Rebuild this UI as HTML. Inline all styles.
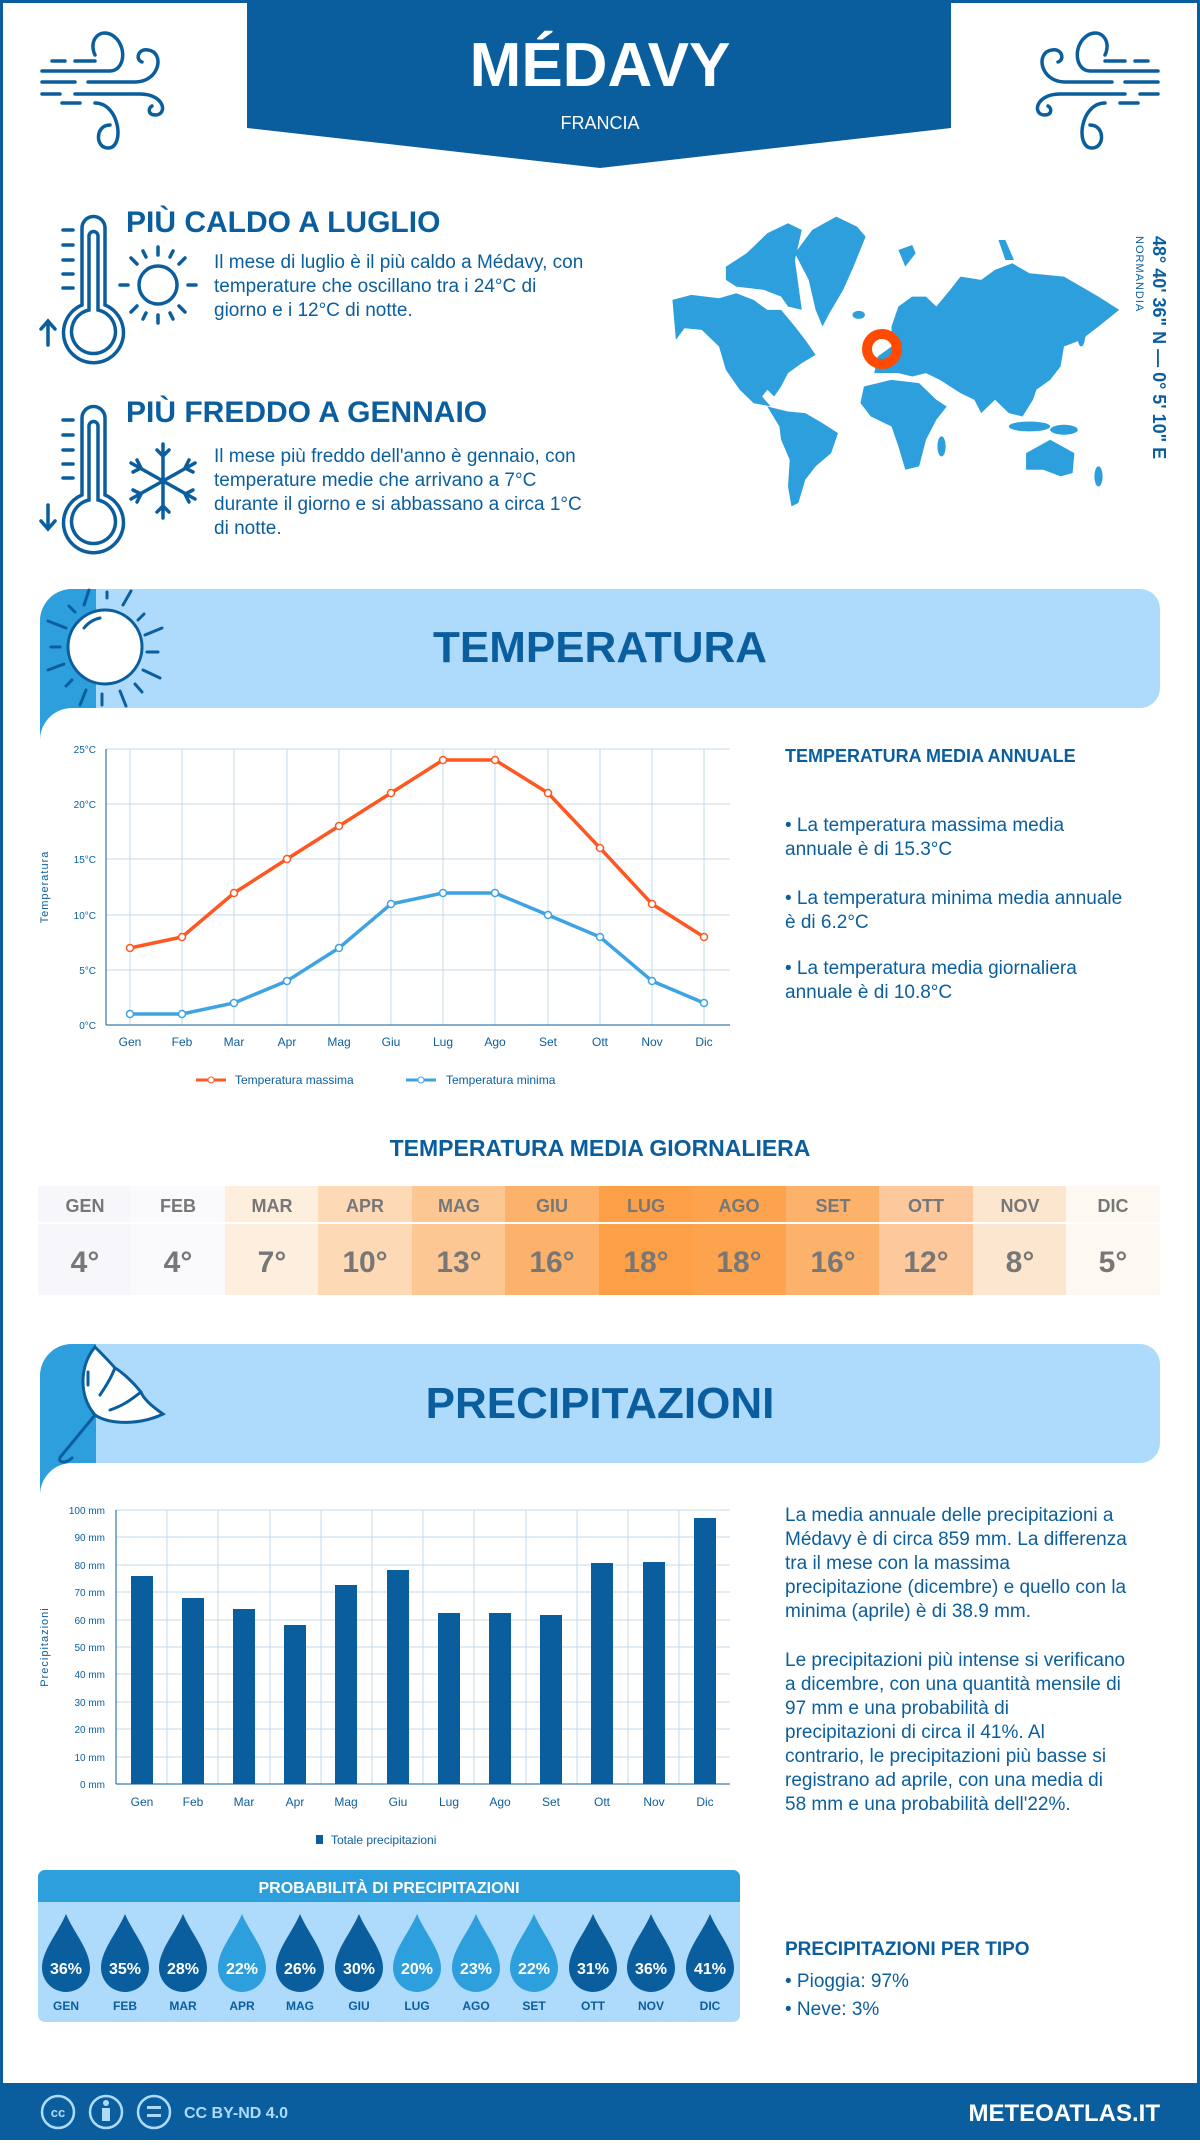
<!DOCTYPE html>
<html><head><meta charset="utf-8"><style>
html,body{margin:0;padding:0;background:#fff}
body{width:1200px;height:2140px;position:relative;overflow:hidden;font-family:"Liberation Sans",sans-serif}
svg text{font-family:"Liberation Sans",sans-serif}
</style></head><body>
<svg width="1200" height="2140" viewBox="0 0 1200 2140" xmlns="http://www.w3.org/2000/svg">
<rect x="1.5" y="1.5" width="1197" height="2137" fill="#fff" stroke="#0b5e9e" stroke-width="3"/>
<polygon points="247,0 951,0 951,128 600,168 247,128" fill="#0b5e9e"/>
<text x="600" y="86" text-anchor="middle" font-size="62" font-weight="bold" fill="#fff">MÉDAVY</text>
<text x="600" y="129" text-anchor="middle" font-size="18" fill="#fff">FRANCIA</text>
<g fill="none" stroke="#0b5e9e" stroke-width="3.5" stroke-linecap="round">
<path d="M42,71 H110 C125,71 128,45 112,35 C100,28 88,40 95,55"/>
<path d="M42,82 H75 M88,82 H135 C160,82 165,52 148,50 C138,48 135,60 142,62"/>
<path d="M52,61 H65 M75,61 H95"/>
<path d="M42,94 H60 M75,94 H140 C165,94 168,115 155,115 C148,115 148,108 152,106"/>
<path d="M62,103 H80 M95,103 C120,103 125,148 108,148 C95,148 95,125 110,125"/>
<g transform="translate(1200,0) scale(-1,1)">
<path d="M42,71 H110 C125,71 128,45 112,35 C100,28 88,40 95,55"/>
<path d="M42,82 H75 M88,82 H135 C160,82 165,52 148,50 C138,48 135,60 142,62"/>
<path d="M52,61 H65 M75,61 H95"/>
<path d="M42,94 H60 M75,94 H140 C165,94 168,115 155,115 C148,115 148,108 152,106"/>
<path d="M62,103 H80 M95,103 C120,103 125,148 108,148 C95,148 95,125 110,125"/>
</g>
</g>
<g fill="none" stroke="#0b5e9e" stroke-width="3.5" stroke-linecap="round">
<path d="M82,305 V228 A11.5,11.5 0 0 1 105,228 V305 A30,30 0 1 1 82,305 Z"/>
<path d="M89,310 V236 A4.5,4.5 0 0 1 98,236 V310 A22,22 0 1 1 89,310 Z"/>
<path d="M63,230 H73 M63,245 H73 M63,260 H73 M63,274 H73 M63,288 H73"/>
<path d="M48,345 V322 M41,329 L48,321 L55,329"/>
<circle cx="158" cy="285" r="19"/>
<path d="M158,255 V247 M158,315 V323 M128,285 H120 M188,285 H196 M137,264 L131,258 M179,264 L185,258 M137,306 L131,312 M179,306 L185,312 M146,257 L143,251 M170,257 L173,251 M146,313 L143,319 M170,313 L173,319"/>
<g transform="translate(0,190)">
<path d="M82,305 V228 A11.5,11.5 0 0 1 105,228 V305 A30,30 0 1 1 82,305 Z"/>
<path d="M89,310 V236 A4.5,4.5 0 0 1 98,236 V310 A22,22 0 1 1 89,310 Z"/>
<path d="M63,230 H73 M63,245 H73 M63,260 H73 M63,274 H73 M63,288 H73"/>
</g>
<path d="M48,505 V528 M41,521 L48,529 L55,521"/>
<g transform="translate(163,481)"><path d="M0,-37 V37 M-32,-18 L32,18 M-32,18 L32,-18 M-6,-31 L0,-25 L6,-31 M-6,31 L0,25 L6,31 M-30,-9 L-22,-13 L-26,-21 M30,9 L22,13 L26,21 M-30,9 L-22,13 L-26,21 M30,-9 L22,-13 L26,-21"/></g>
</g>
<text x="126" y="232" font-size="30" font-weight="bold" fill="#0b5e9e">PIÙ CALDO A LUGLIO</text>
<g font-size="19" fill="#0b5e9e">
<text x="214" y="268">Il mese di luglio è il più caldo a Médavy, con</text>
<text x="214" y="292">temperature che oscillano tra i 24°C di</text>
<text x="214" y="316">giorno e i 12°C di notte.</text>
</g>
<text x="126" y="422" font-size="30" font-weight="bold" fill="#0b5e9e">PIÙ FREDDO A GENNAIO</text>
<g font-size="19" fill="#0b5e9e">
<text x="214" y="462">Il mese più freddo dell'anno è gennaio, con</text>
<text x="214" y="486">temperature medie che arrivano a 7°C</text>
<text x="214" y="510">durante il giorno e si abbassano a circa 1°C</text>
<text x="214" y="534">di notte.</text>
</g>
<!-- map -->
<g transform="translate(650,200) scale(0.345,0.333)" fill="#2e9fdd">
<path d="M65,300 L120,285 L200,295 L250,280 L300,300 L340,330 L380,330 L420,380 L450,420 L480,465 L440,490 L400,520 L380,560 L360,590 L340,570 L325,590 L350,620 L300,610 L260,570 L220,510 L200,440 L150,390 L100,385 L75,420 L70,360 Z"/>
<path d="M220,200 L280,160 L340,100 L400,70 L440,90 L420,180 L440,330 L400,320 L380,290 L330,270 L250,260 L220,240 Z"/>
<path d="M420,160 L470,90 L540,50 L600,80 L625,110 L590,200 L560,270 L520,340 L500,380 L480,330 L460,240 Z"/>
<path d="M340,620 L400,635 L450,640 L500,670 L545,700 L525,760 L480,800 L450,840 L430,910 L410,920 L400,860 L405,780 L380,720 L375,680 Z"/>
<path d="M700,380 L720,320 L760,290 L800,290 L830,320 L870,270 L900,230 L960,240 L1000,210 L1050,190 L1100,220 L1200,230 L1300,290 L1360,330 L1300,380 L1250,420 L1200,440 L1190,500 L1160,540 L1120,570 L1110,600 L1080,650 L1040,640 L1000,600 L960,640 L940,600 L900,580 L870,560 L840,540 L800,520 L760,530 L720,520 L650,520 L660,470 L700,440 Z"/>
<path d="M620,560 L700,540 L780,550 L830,600 L860,620 L830,660 L800,720 L780,800 L740,810 L720,740 L700,680 L640,650 L610,610 Z"/>
<path d="M1090,760 L1160,720 L1230,760 L1225,820 L1190,830 L1140,810 L1090,810 Z"/>
<path d="M1010,120 L1030,120 L1055,180 L1030,180 Z"/>
<path d="M720,150 L760,135 L770,160 L740,200 Z"/>
<ellipse cx="1100" cy="680" rx="60" ry="15"/><ellipse cx="1200" cy="690" rx="40" ry="15"/><ellipse cx="845" cy="740" rx="12" ry="30"/><ellipse cx="1250" cy="400" rx="12" ry="40"/><ellipse cx="605" cy="345" rx="18" ry="12"/><ellipse cx="1300" cy="830" rx="12" ry="30"/>
</g>
<circle cx="882" cy="349" r="15" fill="none" stroke="#ff4a00" stroke-width="10"/>
<text transform="translate(1153,236) rotate(90)" font-size="18" font-weight="bold" fill="#0b5e9e">48° 40' 36" N — 0° 5' 10" E</text>
<text transform="translate(1136,236) rotate(90)" font-size="11" fill="#0b5e9e" letter-spacing="1">NORMANDIA</text>
<!-- temp banner -->
<path d="M70,589 H1140 A20,20 0 0 1 1160,609 V688 A20,20 0 0 1 1140,708 H72 A32,32 0 0 0 40,740 V621 A32,32 0 0 1 72,589 Z" fill="#aedbfc"/>
<path d="M72,589 H96 V708 H72 A32,32 0 0 0 40,740 V621 A32,32 0 0 1 72,589 Z" fill="#2e9fdd"/>
<g stroke="#0b5e9e" stroke-width="3" stroke-linecap="round" fill="none">
<circle cx="105" cy="647" r="37" fill="#fff"/>
<path d="M84,605 L89,590 M107,598 V592 M123,605 L131,591 M138,620 L144,614 M145,635 L162,628 M147,652 H158 M143,670 L160,678 M135,684 L142,692 M120,691 L126,706 M102,694 V705 M86,690 L80,705 M72,680 L66,686 M64,664 L48,670 M60,647 H51 M66,628 L48,621 M75,612 L69,606"/>
<path d="M84,628 A28,28 0 0 1 100,618"/>
</g>
<text x="600" y="662" text-anchor="middle" font-size="44" font-weight="bold" fill="#0b5e9e">TEMPERATURA</text>
<!-- temp chart -->
<g stroke="#c5d9ea" stroke-width="1">
<line x1="106" y1="749" x2="730" y2="749"/><line x1="106" y1="804" x2="730" y2="804"/><line x1="106" y1="859" x2="730" y2="859"/><line x1="106" y1="915" x2="730" y2="915"/><line x1="106" y1="970" x2="730" y2="970"/>
<line x1="130" y1="749" x2="130" y2="1025"/><line x1="182" y1="749" x2="182" y2="1025"/><line x1="234" y1="749" x2="234" y2="1025"/><line x1="287" y1="749" x2="287" y2="1025"/><line x1="339" y1="749" x2="339" y2="1025"/><line x1="391" y1="749" x2="391" y2="1025"/><line x1="443" y1="749" x2="443" y2="1025"/><line x1="495" y1="749" x2="495" y2="1025"/><line x1="548" y1="749" x2="548" y2="1025"/><line x1="600" y1="749" x2="600" y2="1025"/><line x1="652" y1="749" x2="652" y2="1025"/><line x1="704" y1="749" x2="704" y2="1025"/>
</g>
<line x1="106" y1="749" x2="106" y2="1025" stroke="#0b5e9e"/><line x1="106" y1="1025" x2="730" y2="1025" stroke="#0b5e9e"/>
<g font-size="10" fill="#0b5e9e" text-anchor="end">
<text x="96" y="753">25°C</text><text x="96" y="808">20°C</text><text x="96" y="863">15°C</text><text x="96" y="919">10°C</text><text x="96" y="974">5°C</text><text x="96" y="1029">0°C</text>
</g>
<text transform="translate(48,887) rotate(-90)" text-anchor="middle" font-size="11" fill="#0b5e9e" letter-spacing="1">Temperatura</text>
<g font-size="12" fill="#0b5e9e" text-anchor="middle">
<text x="130" y="1046">Gen</text><text x="182" y="1046">Feb</text><text x="234" y="1046">Mar</text><text x="287" y="1046">Apr</text><text x="339" y="1046">Mag</text><text x="391" y="1046">Giu</text><text x="443" y="1046">Lug</text><text x="495" y="1046">Ago</text><text x="548" y="1046">Set</text><text x="600" y="1046">Ott</text><text x="652" y="1046">Nov</text><text x="704" y="1046">Dic</text>
</g>
<polyline fill="none" stroke="#ff5722" stroke-width="3.5" points="130,948 182,937 234,893 287,859 339,826 391,793 443,760 495,760 548,793 600,848 652,904 704,937"/>
<polyline fill="none" stroke="#3ea3e3" stroke-width="3.5" points="130,1014 182,1014 234,1003 287,981 339,948 391,904 443,893 495,893 548,915 600,937 652,981 704,1003"/>
<g fill="#fff" stroke="#ff5722" stroke-width="1.5">
<circle cx="130" cy="948" r="3.5"/><circle cx="182" cy="937" r="3.5"/><circle cx="234" cy="893" r="3.5"/><circle cx="287" cy="859" r="3.5"/><circle cx="339" cy="826" r="3.5"/><circle cx="391" cy="793" r="3.5"/><circle cx="443" cy="760" r="3.5"/><circle cx="495" cy="760" r="3.5"/><circle cx="548" cy="793" r="3.5"/><circle cx="600" cy="848" r="3.5"/><circle cx="652" cy="904" r="3.5"/><circle cx="704" cy="937" r="3.5"/>
</g>
<g fill="#fff" stroke="#3ea3e3" stroke-width="1.5">
<circle cx="130" cy="1014" r="3.5"/><circle cx="182" cy="1014" r="3.5"/><circle cx="234" cy="1003" r="3.5"/><circle cx="287" cy="981" r="3.5"/><circle cx="339" cy="948" r="3.5"/><circle cx="391" cy="904" r="3.5"/><circle cx="443" cy="893" r="3.5"/><circle cx="495" cy="893" r="3.5"/><circle cx="548" cy="915" r="3.5"/><circle cx="600" cy="937" r="3.5"/><circle cx="652" cy="981" r="3.5"/><circle cx="704" cy="1003" r="3.5"/>
</g>
<line x1="196" y1="1080" x2="226" y2="1080" stroke="#ff5722" stroke-width="3"/><circle cx="211" cy="1080" r="3" fill="#fff" stroke="#ff5722"/>
<text x="235" y="1084" font-size="12" fill="#0b5e9e">Temperatura massima</text>
<line x1="406" y1="1080" x2="436" y2="1080" stroke="#3ea3e3" stroke-width="3"/><circle cx="421" cy="1080" r="3" fill="#fff" stroke="#3ea3e3"/>
<text x="446" y="1084" font-size="12" fill="#0b5e9e">Temperatura minima</text>
<text x="785" y="762" font-size="18" font-weight="bold" fill="#0b5e9e">TEMPERATURA MEDIA ANNUALE</text>
<g font-size="19" fill="#0b5e9e">
<text x="785" y="831">• La temperatura massima media</text><text x="785" y="855">annuale è di 15.3°C</text>
<text x="785" y="904">• La temperatura minima media annuale</text><text x="785" y="928">è di 6.2°C</text>
<text x="785" y="974">• La temperatura media giornaliera</text><text x="785" y="998">annuale è di 10.8°C</text>
</g>
<text x="600" y="1156" text-anchor="middle" font-size="23" font-weight="bold" fill="#0b5e9e">TEMPERATURA MEDIA GIORNALIERA</text>
<g>
<rect x="38" y="1186" width="94" height="109" fill="#f6f6fb"/>
<rect x="131" y="1186" width="94" height="109" fill="#fafafd"/>
<rect x="225" y="1186" width="94" height="109" fill="#feeedd"/>
<rect x="318" y="1186" width="94" height="109" fill="#fdd9b5"/>
<rect x="412" y="1186" width="94" height="109" fill="#fdc793"/>
<rect x="505" y="1186" width="94" height="109" fill="#fdb26b"/>
<rect x="599" y="1186" width="94" height="109" fill="#fd9f47"/>
<rect x="692" y="1186" width="94" height="109" fill="#fda24d"/>
<rect x="786" y="1186" width="94" height="109" fill="#fdb26b"/>
<rect x="879" y="1186" width="94" height="109" fill="#fdc89b"/>
<rect x="973" y="1186" width="94" height="109" fill="#fde6cf"/>
<rect x="1066" y="1186" width="94" height="109" fill="#fef8f2"/>
<line x1="38" y1="1223" x2="1160" y2="1223" stroke="#fff" stroke-width="2"/>
</g>
<g font-size="18" font-weight="bold" fill="#777" text-anchor="middle">
<text x="85" y="1212">GEN</text><text x="178" y="1212">FEB</text><text x="272" y="1212">MAR</text><text x="365" y="1212">APR</text><text x="459" y="1212">MAG</text><text x="552" y="1212">GIU</text><text x="646" y="1212">LUG</text><text x="739" y="1212">AGO</text><text x="833" y="1212">SET</text><text x="926" y="1212">OTT</text><text x="1020" y="1212">NOV</text><text x="1113" y="1212">DIC</text>
</g>
<g font-size="30" font-weight="bold" fill="#777" text-anchor="middle">
<text x="85" y="1272">4°</text><text x="178" y="1272">4°</text><text x="272" y="1272">7°</text><text x="365" y="1272">10°</text><text x="459" y="1272">13°</text><text x="552" y="1272">16°</text><text x="646" y="1272">18°</text><text x="739" y="1272">18°</text><text x="833" y="1272">16°</text><text x="926" y="1272">12°</text><text x="1020" y="1272">8°</text><text x="1113" y="1272">5°</text>
</g>
<!-- precip banner -->
<path d="M72,1344 H1140 A20,20 0 0 1 1160,1364 V1443 A20,20 0 0 1 1140,1463 H72 A32,32 0 0 0 40,1495 V1376 A32,32 0 0 1 72,1344 Z" fill="#aedbfc"/>
<path d="M72,1344 H96 V1463 H72 A32,32 0 0 0 40,1495 V1376 A32,32 0 0 1 72,1344 Z" fill="#2e9fdd"/>
<g stroke="#0b5e9e" stroke-width="3" fill="none" stroke-linecap="round">
<path d="M95,1347 C80,1365 78,1395 95,1415 C110,1425 140,1425 163,1414 C150,1405 143,1398 141,1392 C133,1382 122,1372 115,1368 C108,1360 100,1352 95,1347 Z" fill="#fff"/>
<path d="M95,1415 L62,1455 C55,1462 65,1465 72,1458"/>
<path d="M88,1372 V1385 M100,1395 C110,1380 112,1375 115,1368 M110,1410 C125,1405 133,1398 141,1392"/>
</g>
<text x="600" y="1418" text-anchor="middle" font-size="44" font-weight="bold" fill="#0b5e9e">PRECIPITAZIONI</text>
<g stroke="#c5d9ea" stroke-width="1">
<line x1="116" y1="1510" x2="730" y2="1510"/><line x1="116" y1="1537" x2="730" y2="1537"/><line x1="116" y1="1565" x2="730" y2="1565"/><line x1="116" y1="1592" x2="730" y2="1592"/><line x1="116" y1="1620" x2="730" y2="1620"/><line x1="116" y1="1647" x2="730" y2="1647"/><line x1="116" y1="1674" x2="730" y2="1674"/><line x1="116" y1="1702" x2="730" y2="1702"/><line x1="116" y1="1729" x2="730" y2="1729"/><line x1="116" y1="1757" x2="730" y2="1757"/>
<line x1="167" y1="1510" x2="167" y2="1784"/><line x1="218" y1="1510" x2="218" y2="1784"/><line x1="270" y1="1510" x2="270" y2="1784"/><line x1="321" y1="1510" x2="321" y2="1784"/><line x1="372" y1="1510" x2="372" y2="1784"/><line x1="423" y1="1510" x2="423" y2="1784"/><line x1="474" y1="1510" x2="474" y2="1784"/><line x1="526" y1="1510" x2="526" y2="1784"/><line x1="577" y1="1510" x2="577" y2="1784"/><line x1="628" y1="1510" x2="628" y2="1784"/><line x1="679" y1="1510" x2="679" y2="1784"/>
</g>
<line x1="116" y1="1510" x2="116" y2="1784" stroke="#0b5e9e"/><line x1="116" y1="1784" x2="730" y2="1784" stroke="#0b5e9e"/>
<g font-size="10" fill="#0b5e9e" text-anchor="end">
<text x="105" y="1514">100 mm</text><text x="105" y="1541">90 mm</text><text x="105" y="1569">80 mm</text><text x="105" y="1596">70 mm</text><text x="105" y="1624">60 mm</text><text x="105" y="1651">50 mm</text><text x="105" y="1678">40 mm</text><text x="105" y="1706">30 mm</text><text x="105" y="1733">20 mm</text><text x="105" y="1761">10 mm</text><text x="105" y="1788">0 mm</text>
</g>
<text transform="translate(48,1647) rotate(-90)" text-anchor="middle" font-size="11" fill="#0b5e9e" letter-spacing="1">Precipitazioni</text>
<g fill="#0b5e9e">
<rect x="131" y="1576" width="22" height="208"/><rect x="182" y="1598" width="22" height="186"/><rect x="233" y="1609" width="22" height="175"/><rect x="284" y="1625" width="22" height="159"/><rect x="335" y="1585" width="22" height="199"/><rect x="387" y="1570" width="22" height="214"/><rect x="438" y="1613" width="22" height="171"/><rect x="489" y="1613" width="22" height="171"/><rect x="540" y="1615" width="22" height="169"/><rect x="591" y="1563" width="22" height="221"/><rect x="643" y="1562" width="22" height="222"/><rect x="694" y="1518" width="22" height="266"/>
</g>
<g font-size="12" fill="#0b5e9e" text-anchor="middle">
<text x="142" y="1806">Gen</text><text x="193" y="1806">Feb</text><text x="244" y="1806">Mar</text><text x="295" y="1806">Apr</text><text x="346" y="1806">Mag</text><text x="398" y="1806">Giu</text><text x="449" y="1806">Lug</text><text x="500" y="1806">Ago</text><text x="551" y="1806">Set</text><text x="602" y="1806">Ott</text><text x="654" y="1806">Nov</text><text x="705" y="1806">Dic</text>
</g>
<rect x="316" y="1835" width="7" height="9" fill="#0b5e9e"/>
<text x="331" y="1844" font-size="12" fill="#0b5e9e">Totale precipitazioni</text>
<g font-size="19" fill="#0b5e9e">
<text x="785" y="1521">La media annuale delle precipitazioni a</text>
<text x="785" y="1545">Médavy è di circa 859 mm. La differenza</text>
<text x="785" y="1569">tra il mese con la massima</text>
<text x="785" y="1593">precipitazione (dicembre) e quello con la</text>
<text x="785" y="1617">minima (aprile) è di 38.9 mm.</text>
<text x="785" y="1666">Le precipitazioni più intense si verificano</text>
<text x="785" y="1690">a dicembre, con una quantità mensile di</text>
<text x="785" y="1714">97 mm e una probabilità di</text>
<text x="785" y="1738">precipitazioni di circa il 41%. Al</text>
<text x="785" y="1762">contrario, le precipitazioni più basse si</text>
<text x="785" y="1786">registrano ad aprile, con una media di</text>
<text x="785" y="1810">58 mm e una probabilità dell'22%.</text>
</g>
<rect x="38" y="1870" width="702" height="152" rx="7" fill="#aedbfc"/>
<path d="M45,1870 H733 A7,7 0 0 1 740,1877 V1902 H38 V1877 A7,7 0 0 1 45,1870 Z" fill="#2e9fdd"/>
<text x="389" y="1893" text-anchor="middle" font-size="16" font-weight="bold" fill="#fff">PROBABILITÀ DI PRECIPITAZIONI</text>
<defs><path id="drop" d="M0,-54 C8,-35 24,-18 24,0 A24,24 0 0 1 -24,0 C-24,-18 -8,-35 0,-54 Z"/></defs>
<g>
<use href="#drop" x="66" y="1968" fill="#0b5e9e"/><use href="#drop" x="125" y="1968" fill="#0b5e9e"/><use href="#drop" x="183" y="1968" fill="#0b5e9e"/><use href="#drop" x="242" y="1968" fill="#2e9fdd"/><use href="#drop" x="300" y="1968" fill="#0b5e9e"/><use href="#drop" x="359" y="1968" fill="#0b5e9e"/><use href="#drop" x="417" y="1968" fill="#2e9fdd"/><use href="#drop" x="476" y="1968" fill="#2e9fdd"/><use href="#drop" x="534" y="1968" fill="#2e9fdd"/><use href="#drop" x="593" y="1968" fill="#0b5e9e"/><use href="#drop" x="651" y="1968" fill="#0b5e9e"/><use href="#drop" x="710" y="1968" fill="#0b5e9e"/>
</g>
<g font-size="16" font-weight="bold" fill="#fff" text-anchor="middle">
<text x="66" y="1974">36%</text><text x="125" y="1974">35%</text><text x="183" y="1974">28%</text><text x="242" y="1974">22%</text><text x="300" y="1974">26%</text><text x="359" y="1974">30%</text><text x="417" y="1974">20%</text><text x="476" y="1974">23%</text><text x="534" y="1974">22%</text><text x="593" y="1974">31%</text><text x="651" y="1974">36%</text><text x="710" y="1974">41%</text>
</g>
<g font-size="12" font-weight="bold" fill="#0b5e9e" text-anchor="middle">
<text x="66" y="2010">GEN</text><text x="125" y="2010">FEB</text><text x="183" y="2010">MAR</text><text x="242" y="2010">APR</text><text x="300" y="2010">MAG</text><text x="359" y="2010">GIU</text><text x="417" y="2010">LUG</text><text x="476" y="2010">AGO</text><text x="534" y="2010">SET</text><text x="593" y="2010">OTT</text><text x="651" y="2010">NOV</text><text x="710" y="2010">DIC</text>
</g>
<text x="785" y="1955" font-size="19" font-weight="bold" fill="#0b5e9e">PRECIPITAZIONI PER TIPO</text>
<text x="785" y="1987" font-size="19" fill="#0b5e9e">• Pioggia: 97%</text>
<text x="785" y="2015" font-size="19" fill="#0b5e9e">• Neve: 3%</text>
<rect x="0" y="2083" width="1200" height="57" fill="#0b5e9e"/>
<g fill="none" stroke="#aedbfc" stroke-width="2.5">
<circle cx="58" cy="2112" r="16"/><circle cx="106" cy="2112" r="16"/><circle cx="154" cy="2112" r="16"/>
</g>
<text x="58" y="2117" text-anchor="middle" font-size="13" font-weight="bold" fill="#aedbfc">cc</text>
<circle cx="106" cy="2103" r="3" fill="#aedbfc"/><rect x="102" y="2108" width="8" height="13" fill="#aedbfc"/>
<rect x="147" y="2106" width="14" height="3" fill="#aedbfc"/><rect x="147" y="2114" width="14" height="3" fill="#aedbfc"/>
<text x="184" y="2118" font-size="16" font-weight="bold" fill="#aedbfc">CC BY-ND 4.0</text>
<text x="1160" y="2121" text-anchor="end" font-size="24" font-weight="bold" fill="#fff">METEOATLAS.IT</text>
</svg>
</body></html>
